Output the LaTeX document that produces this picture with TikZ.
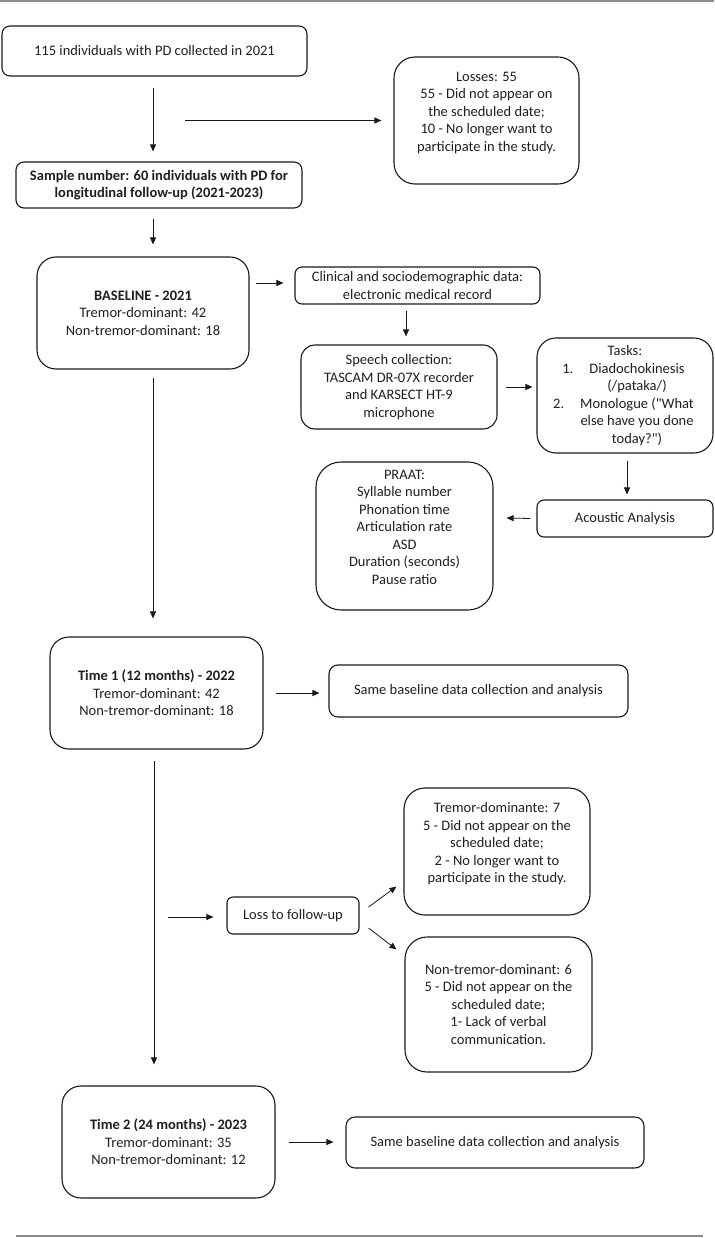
\documentclass[tikz,border=0pt]{standalone}
\usepackage{fontspec}
\newfontfamily\calfont{Carlito}
\usetikzlibrary{arrows.meta,calc}
\begin{document}
\begin{tikzpicture}[x=1pt,y=-1pt,
  box/.style={draw=black!90, line width=1.1pt, align=center, inner sep=0pt,
    text=black!88, font=\calfont\fontsize{14.5}{17.5}\selectfont},
  arr/.style={-{Triangle[length=7pt,width=6pt]}, line width=0.8pt, draw=black!90},
  rule/.style={draw=black!45}
]
\useasboundingbox (0,0) rectangle (714,1238);
\draw[rule, line width=1.6pt] (0,1) -- (714,1);
\draw[rule, line width=2.6pt] (16,1236) -- (703,1236);

\node[box, minimum width=305pt, minimum height=50pt, rounded corners=8pt] (A) at (154.5,51)
  {115 individuals with PD collected in 2021};
\node[box, minimum width=185pt, minimum height=127pt, rounded corners=21pt] (L) at (486.5,120.5)
  {Losses: 55\\55 - Did not appear on\\the scheduled date;\\10 - No longer want to\\participate in the study.\\\mbox{}};
\node[box, minimum width=286pt, minimum height=46pt, rounded corners=8pt, font=\calfont\fontsize{14.5}{17.5}\selectfont\bfseries] (S) at (159,185)
  {Sample number: 60 individuals with PD for\\longitudinal follow-up (2021-2023)};
\node[box, minimum width=212pt, minimum height=112pt, rounded corners=19pt] (B) at (143,313)
  {\textbf{BASELINE - 2021}\\Tremor-dominant: 42\\Non-tremor-dominant: 18};
\node[box, minimum width=245pt, minimum height=37pt, rounded corners=7pt] (C) at (417.5,285.5)
  {Clinical and sociodemographic data:\\electronic medical record};
\node[box, minimum width=196pt, minimum height=84pt, rounded corners=14pt] (Sp) at (399,387)
  {Speech collection:\\TASCAM DR-07X recorder\\and KARSECT HT-9\\microphone};
\node[box, minimum width=176pt, minimum height=115pt, rounded corners=19pt] (T) at (625,395.5)
  {Tasks:\\
   \hspace*{24pt}\makebox[0pt][r]{1.\hspace{16pt}}Diadochokinesis\\
   \hspace*{24pt}(/pataka/)\\
   \hspace*{24pt}\makebox[0pt][r]{2.\hspace{16pt}}Monologue ("What\\
   \hspace*{24pt}else have you done\\
   \hspace*{24pt}today?")};
\node[box, minimum width=176pt, minimum height=37pt, rounded corners=7pt] (Ac) at (625,518.5)
  {Acoustic Analysis};
\node[box, minimum width=177pt, minimum height=148pt, rounded corners=25pt] (P) at (404.5,536)
  {PRAAT:\\Syllable number\\Phonation time\\Articulation rate\\ASD\\Duration (seconds)\\Pause ratio\\\mbox{}};
\node[box, minimum width=213pt, minimum height=112pt, rounded corners=19pt] (T1) at (156.5,693)
  {\textbf{Time 1 (12 months) - 2022}\\Tremor-dominant: 42\\Non-tremor-dominant: 18};
\node[box, minimum width=299pt, minimum height=52pt, rounded corners=9pt] (S1) at (478.5,691)
  {Same baseline data collection and analysis};
\node[box, minimum width=132pt, minimum height=37pt, rounded corners=6pt] (LF) at (293,915.5)
  {Loss to follow-up};
\node[box, minimum width=186pt, minimum height=127pt, rounded corners=21pt] (TD) at (497,851.5)
  {Tremor-dominante: 7\\5 - Did not appear on the\\scheduled date;\\2 - No longer want to\\participate in the study.\\\mbox{}};
\node[box, minimum width=187pt, minimum height=135pt, rounded corners=22pt] (NTD) at (498.5,1004.5)
  {Non-tremor-dominant: 6\\5 - Did not appear on the\\scheduled date;\\1- Lack of verbal\\communication.};
\node[box, minimum width=213pt, minimum height=112pt, rounded corners=19pt] (T2) at (168.5,1142)
  {\textbf{Time 2 (24 months) - 2023}\\Tremor-dominant: 35\\Non-tremor-dominant: 12};
\node[box, minimum width=298pt, minimum height=51pt, rounded corners=9pt] (S2) at (495,1142.5)
  {Same baseline data collection and analysis};

\coordinate (lstart) at (185,120.5);
\coordinate (lfstart) at (168,917);

\draw[arr] ($(A.south)+(-1.5,11)$) -- ($(S.north)+(-6,-10)$);
\draw[arr] (lstart) -- ($(L.west)+(-12,0)$);
\draw[arr] ($(S.south)+(-6,10)$) -- ($(B.north)+(10,-12)$);
\draw[arr] ($(B.east)+(6,-30)$) -- ($(C.west)+(-11,-2.5)$);
\draw[arr] ($(C.south)+(-11.5,6)$) -- ($(Sp.north)+(7,-8)$);
\draw[arr] ($(Sp.east)+(8,0)$) -- ($(T.west)+(-4,-8.5)$);
\draw[arr] ($(T.south)+(2,7)$) -- ($(Ac.north)+(2,-5)$);
\draw[arr] ($(Ac.west)+(-6,0)$) -- ($(P.east)+(13,-18)$);
\draw[arr] ($(B.south)+(10,8)$) -- ($(T1.north)+(-3.5,-18)$);
\draw[arr] ($(T1.east)+(12,0)$) -- ($(S1.west)+(-9,2)$);
\draw[arr] ($(T1.south)+(-2.5,11)$) -- ($(T2.north)+(-14.5,-21)$);
\draw[arr] (lfstart) -- ($(LF.west)+(-13,1.5)$);
\draw[arr] ($(LF.east)+(9,-8.5)$) -- ($(TD.south west)+(-7,-29)$);
\draw[arr] ($(LF.east)+(9,12.5)$) -- ($(NTD.north west)+(-8,13)$);
\draw[arr] ($(T2.east)+(13,0)$) -- ($(S2.west)+(-12,-0.5)$);
\end{tikzpicture}
\end{document}
